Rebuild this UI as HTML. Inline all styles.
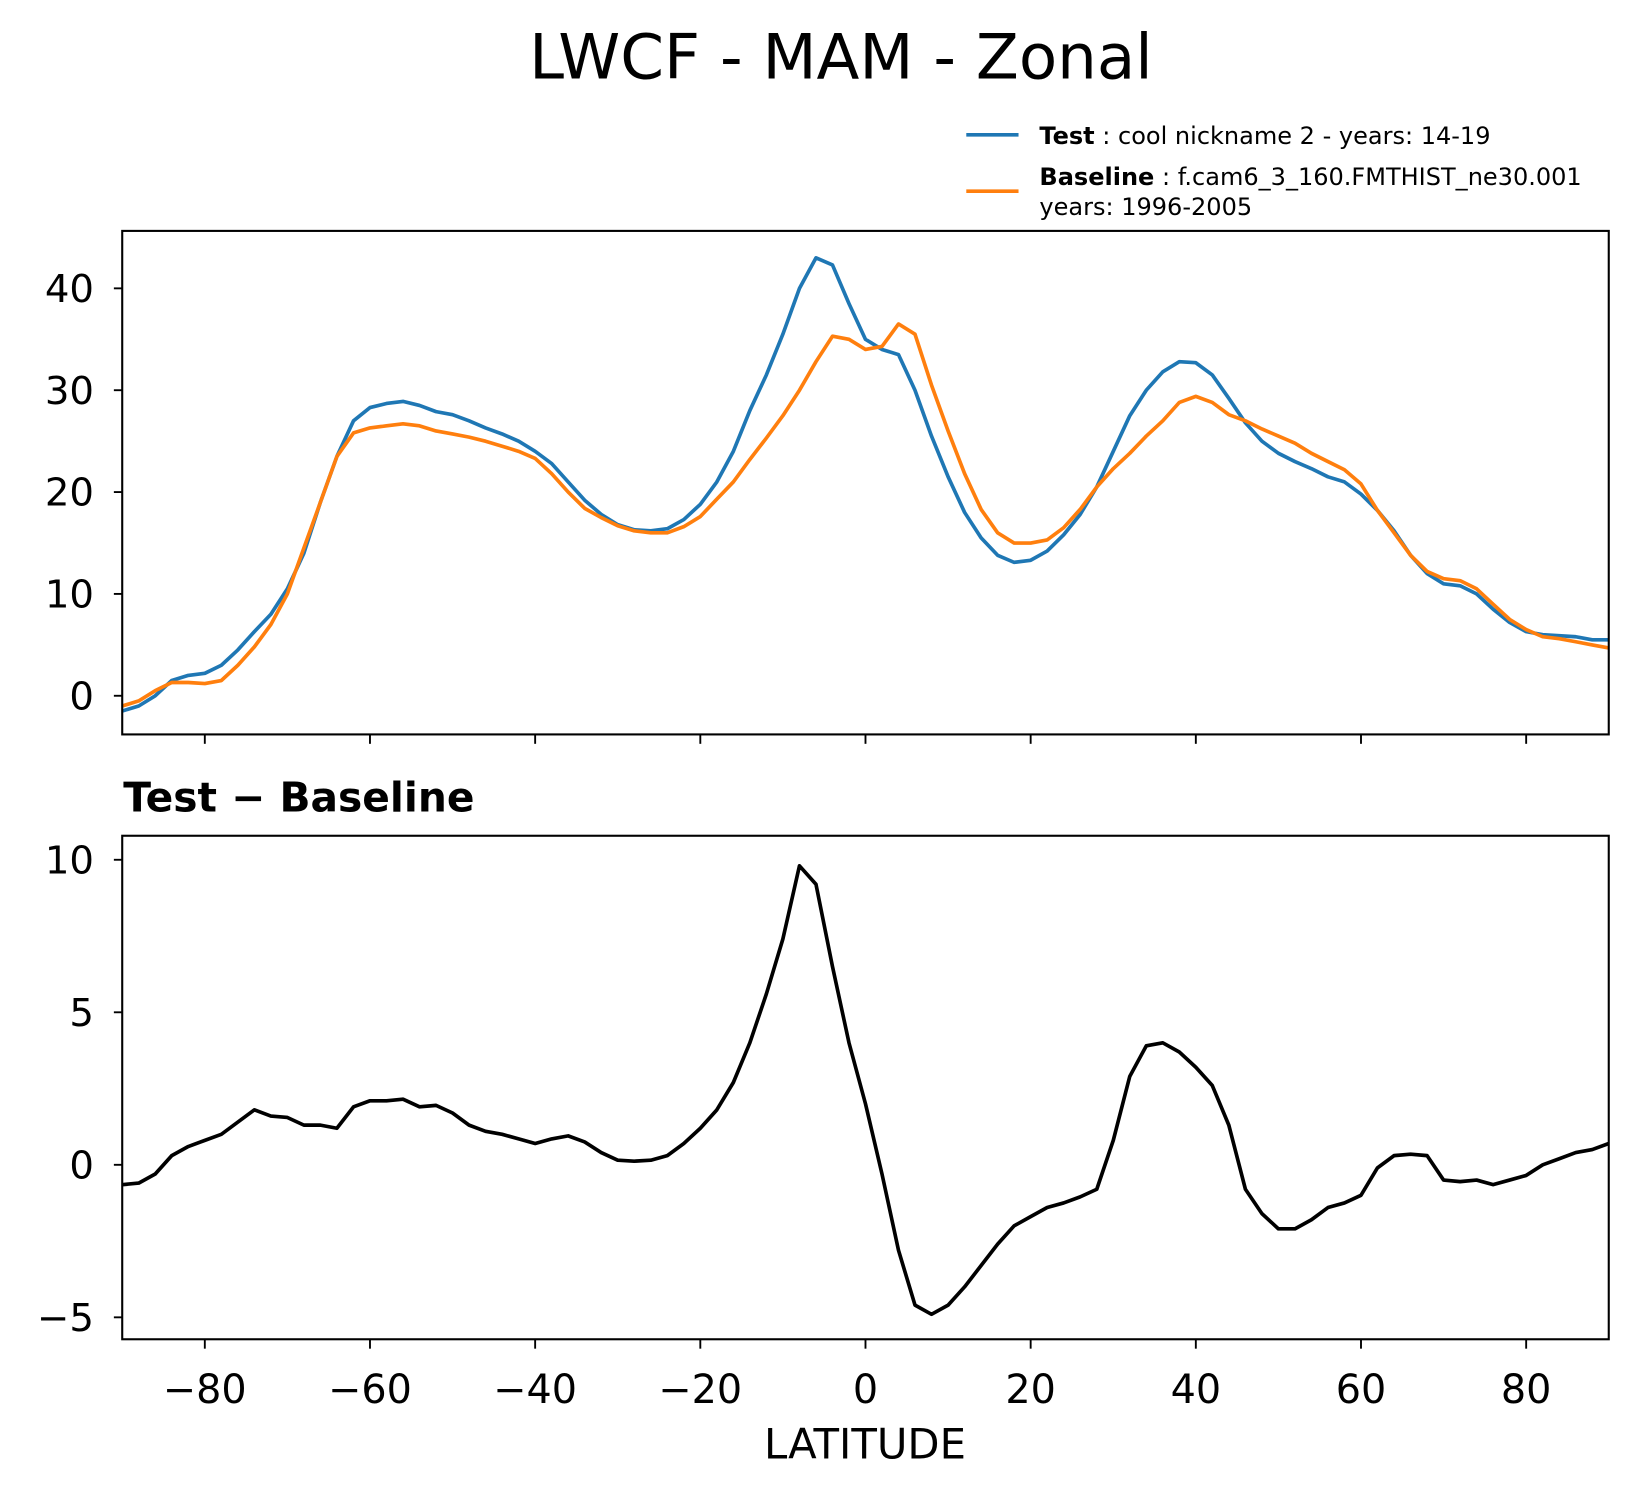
<!DOCTYPE html>
<html><head><meta charset="utf-8"><style>
html,body{margin:0;padding:0;background:#fff;}
svg{display:block;font-family:"DejaVu Sans","Liberation Sans",sans-serif;}
</style></head><body>
<svg id="chart" width="1638" height="1496" viewBox="0 0 1568 1432">
<text x="805" y="75" font-size="60" text-anchor="middle">LWCF - MAM - Zonal</text>
<g>
<line x1="925" y1="129" x2="975" y2="129" stroke="#1f77b4" stroke-width="3.5"/>
<text x="995" y="138" font-size="23"><tspan font-weight="bold">Test</tspan> : cool nickname 2 - years: 14-19</text>
<line x1="925" y1="183" x2="975" y2="183" stroke="#ff7f0e" stroke-width="3.5"/>
<text x="995" y="177" font-size="23"><tspan font-weight="bold">Baseline</tspan> : f.cam6_3_160.FMTHIST_ne30.001</text>
<text x="995" y="206" font-size="23">years: 1996-2005</text>
</g>
<text x="118" y="777" font-size="39" font-weight="bold">Test − Baseline</text>
<text x="828" y="1396" font-size="40" text-anchor="middle">LATITUDE</text>
</svg>
<script>
const lats = [];
for (let i = -90; i <= 90; i += 2) lats.push(i);
const testVals = [-1.5,-1,0,1.5,2,2.2,3,4.5,6.3,8,10.5,14,19,23.5,27,28.3,28.7,28.9,28.5,27.9,27.6,27,26.3,25.7,25,24,22.8,21,19.2,17.8,16.8,16.3,16.2,16.4,17.3,18.8,21,24,28,31.5,35.5,40,43,42.3,38.5,35,34,33.5,30,25.5,21.5,18,15.5,13.8,13.1,13.3,14.2,15.8,17.8,20.5,24,27.5,30,31.8,32.8,32.7,31.5,29.2,26.8,25,23.8,23,22.3,21.5,21,19.8,18.2,16.2,13.8,12,11,10.8,10,8.5,7.2,6.3,6,5.9,5.8,5.5,5.5];
const baseVals = [-1,-0.5,0.5,1.3,1.3,1.2,1.5,3,4.8,7,10,14.5,19,23.5,25.8,26.3,26.5,26.7,26.5,26,25.7,25.4,25,24.5,24,23.3,21.8,20,18.4,17.5,16.7,16.2,16,16,16.6,17.6,19.3,21,23.2,25.3,27.5,30,32.8,35.3,35,34,34.3,36.5,35.5,30.5,26,21.8,18.3,16,15,15,15.3,16.5,18.3,20.5,22.3,23.8,25.5,27,28.8,29.4,28.8,27.6,27,26.2,25.5,24.8,23.8,23,22.2,20.8,18.2,16,13.8,12.2,11.5,11.3,10.5,9,7.5,6.5,5.8,5.6,5.3,5,4.7];
const diffVals = [-0.65,-0.6,-0.3,0.3,0.6,0.8,1.0,1.4,1.8,1.6,1.55,1.3,1.3,1.2,1.9,2.1,2.1,2.15,1.9,1.95,1.7,1.3,1.1,1.0,0.85,0.7,0.85,0.95,0.75,0.4,0.15,0.12,0.15,0.3,0.7,1.2,1.8,2.7,4.0,5.6,7.4,9.8,9.2,6.5,4.0,2.0,-0.3,-2.8,-4.6,-4.9,-4.6,-4.0,-3.3,-2.6,-2.0,-1.7,-1.4,-1.25,-1.05,-0.8,0.8,2.9,3.9,4.0,3.7,3.2,2.6,1.3,-0.8,-1.6,-2.1,-2.1,-1.8,-1.4,-1.25,-1.0,-0.1,0.3,0.35,0.3,-0.5,-0.55,-0.5,-0.65,-0.5,-0.35,0.0,0.2,0.4,0.5,0.7];
const xTicks = [-80,-60,-40,-20,0,20,40,60,80];
const topTicks = [0,10,20,30,40];
const botTicks = [-5,0,5,10];

const NS = "http://www.w3.org/2000/svg";
const svg = document.getElementById('chart');
const L = 117, R = 1540;
const xs = v => L + (v + 90) / 180 * (R - L);
const yTop = v => 666 - 9.75 * v;
const yBot = v => 1115 - 29.2 * v;
function mk(tag, attrs){const e=document.createElementNS(NS,tag);for(const k in attrs)e.setAttribute(k,attrs[k]);svg.appendChild(e);return e;}
function label(v){return (v<0?'−':'')+Math.abs(v);}

function panel(top, bot, yf, yticks, showX, name){
  for (const t of yticks){
    const y=yf(t);
    const tk=mk('line',{x1:L-8,y1:y,x2:L,y2:y,stroke:'#000','stroke-width':1.8});
    
    
    const tx=mk('text',{x:L-27,y:y+13,'font-size':37,'text-anchor':'end'});
    tx.textContent=label(t);
    
    
  }
  for (const t of xTicks){
    const x=xs(t);
    const tk=mk('line',{x1:x,y1:bot,x2:x,y2:bot+9,stroke:'#000','stroke-width':1.8});
    
    
    if(showX){
      const tx=mk('text',{x:x,y:bot+61,'font-size':38,'text-anchor':'middle'});
      tx.textContent=label(t);
      
      
    }
  }
}
function line(vals, yf, color, name){
  const d = vals.map((v,i)=>(i?'L':'M')+xs(lats[i]).toFixed(1)+','+yf(v).toFixed(1)).join('');
  const p = mk('path',{d:d,fill:'none',stroke:color,'stroke-width':3.5,'stroke-linejoin':'round'});
  
  
}
panel(221,703,yTop,topTicks,false,'top-panel');
line(testVals,yTop,'#1f77b4','test-line');
line(baseVals,yTop,'#ff7f0e','baseline-line');
const f1=mk('rect',{x:L,y:221,width:R-L,height:482,fill:'none',stroke:'#000','stroke-width':2});


panel(800,1282,yBot,botTicks,true,'diff-panel');
line(diffVals,yBot,'#000','difference-line');
const f2=mk('rect',{x:L,y:800,width:R-L,height:482,fill:'none',stroke:'#000','stroke-width':2});


</script>
</body></html>
